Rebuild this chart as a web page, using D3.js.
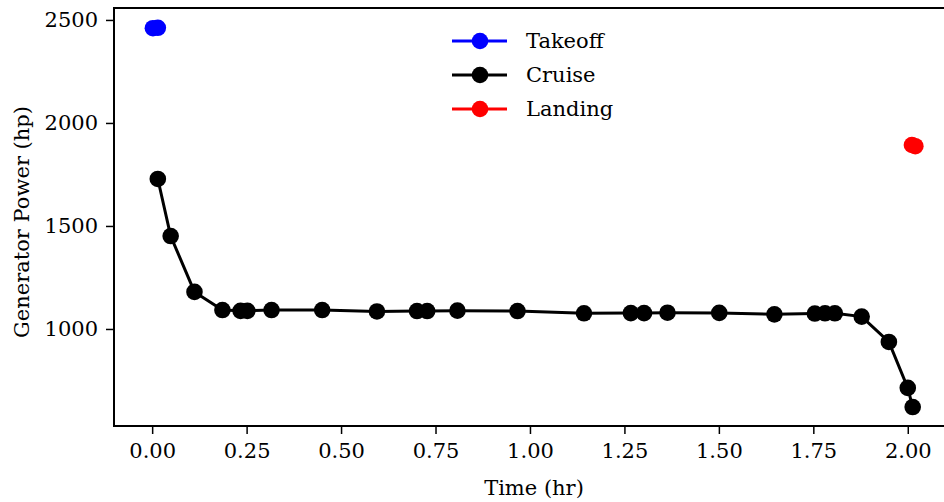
<!DOCTYPE html>
<html>
<head>
  <script src="https://d3js.org/d3.v7.min.js"></script>
  <style>
    body { margin: 0; background: white; }
    svg { display: block; font-family: 'DejaVu Serif', serif; }
  </style>
</head>
<body>
  <div id="chart"></div>
  <script>
    // data
    const takeoffTime = [0.002, 0.015];
    const takeoffPower = [2460, 2462];

    const cruiseTime = [0.015, 0.049, 0.112, 0.186, 0.234, 0.252, 0.316, 0.450, 0.595, 0.701, 0.728,
      0.808, 0.967, 1.143, 1.267, 1.302, 1.364, 1.501, 1.647, 1.754, 1.781, 1.807, 1.878, 1.950, 2.000, 2.013];
    const cruisePower = [1728, 1451, 1180, 1092, 1088, 1088, 1092, 1092, 1085, 1087, 1087,
      1089, 1087, 1076, 1077, 1077, 1079, 1078, 1071, 1075, 1076, 1076, 1060, 937, 714, 621];

    const landingTime = [2.011, 2.020];
    const landingPower = [1893, 1887];

    const xTicks = [0, 0.25, 0.5, 0.75, 1.0, 1.25, 1.5, 1.75, 2.0];
    const yTicks = [1000, 1500, 2000, 2500];

    const width = 944, height = 502;
    const margin = { top: 8, right: -11, bottom: 76, left: 114 };
    const fontSize = "21px";

    const svg = d3.select("#chart").append("svg")
      .attr("width", width)
      .attr("height", height);

    const x = d3.scaleLinear()
      .domain([-0.101, 2.125])
      .range([margin.left, width - margin.right]);

    const y = d3.scaleLinear()
      .domain([529, 2558])
      .range([height - margin.bottom, margin.top]);

    const series = [
      { name: "Takeoff", color: "#0000ff", t: takeoffTime, p: takeoffPower },
      { name: "Cruise", color: "#000000", t: cruiseTime, p: cruisePower },
      { name: "Landing", color: "#ff0000", t: landingTime, p: landingPower }
    ];

    const line = d3.line().x(d => x(d[0])).y(d => y(d[1]));

    series.forEach(s => {
      const pts = s.t.map((t, i) => [t, s.p[i]]);
      svg.append("path")
        .datum(pts)
        .attr("d", line)
        .attr("fill", "none")
        .attr("stroke", s.color)
        .attr("stroke-width", 3);
      svg.append("g").selectAll("circle")
        .data(pts)
        .enter().append("circle")
        .attr("cx", d => x(d[0]))
        .attr("cy", d => y(d[1]))
        .attr("r", 8.3)
        .attr("fill", s.color);
    });

    // axes
    const xAxis = d3.axisBottom(x).tickValues(xTicks).tickFormat(d3.format(".2f"))
      .tickSize(8).tickPadding(9).tickSizeOuter(0);
    const gx = svg.append("g")
      .attr("transform", `translate(0, ${height - margin.bottom})`)
      .call(xAxis);

    const yAxis = d3.axisLeft(y).tickValues(yTicks).tickFormat(d3.format("d"))
      .tickSize(8).tickPadding(8).tickSizeOuter(0);
    const gy = svg.append("g")
      .attr("transform", `translate(${margin.left}, 0)`)
      .call(yAxis);

    [gx, gy].forEach(g => {
      g.select(".domain").remove();
      g.selectAll(".tick line").attr("stroke", "#000").attr("stroke-width", 1.5);
      g.selectAll(".tick text").attr("fill", "#000")
        .style("font-family", "'DejaVu Serif', serif")
        .style("font-size", fontSize);
    });

    // frame
    svg.append("rect")
      .attr("x", margin.left)
      .attr("y", margin.top)
      .attr("width", width - margin.right - margin.left)
      .attr("height", height - margin.bottom - margin.top)
      .attr("fill", "none")
      .attr("stroke", "#000")
      .attr("stroke-width", 2);

    svg.append("text")
      .attr("x", 534)
      .attr("y", 495)
      .attr("text-anchor", "middle")
      .style("font-size", fontSize)
      .text("Time (hr)");

    svg.append("text")
      .attr("transform", "rotate(-90)")
      .attr("x", -222)
      .attr("y", 29)
      .attr("text-anchor", "middle")
      .style("font-size", fontSize)
      .text("Generator Power (hp)");

    // legend
    const legend = svg.append("g");
    series.forEach((s, i) => {
      const ly = 41 + i * 34;
      legend.append("line")
        .attr("x1", 452).attr("x2", 507)
        .attr("y1", ly).attr("y2", ly)
        .attr("stroke", s.color).attr("stroke-width", 3);
      legend.append("circle")
        .attr("cx", 480).attr("cy", ly).attr("r", 8.3)
        .attr("fill", s.color);
      legend.append("text")
        .attr("x", 526).attr("y", ly + 7)
        .style("font-size", fontSize)
        .text(s.name);
    });
  </script>
</body>
</html>
